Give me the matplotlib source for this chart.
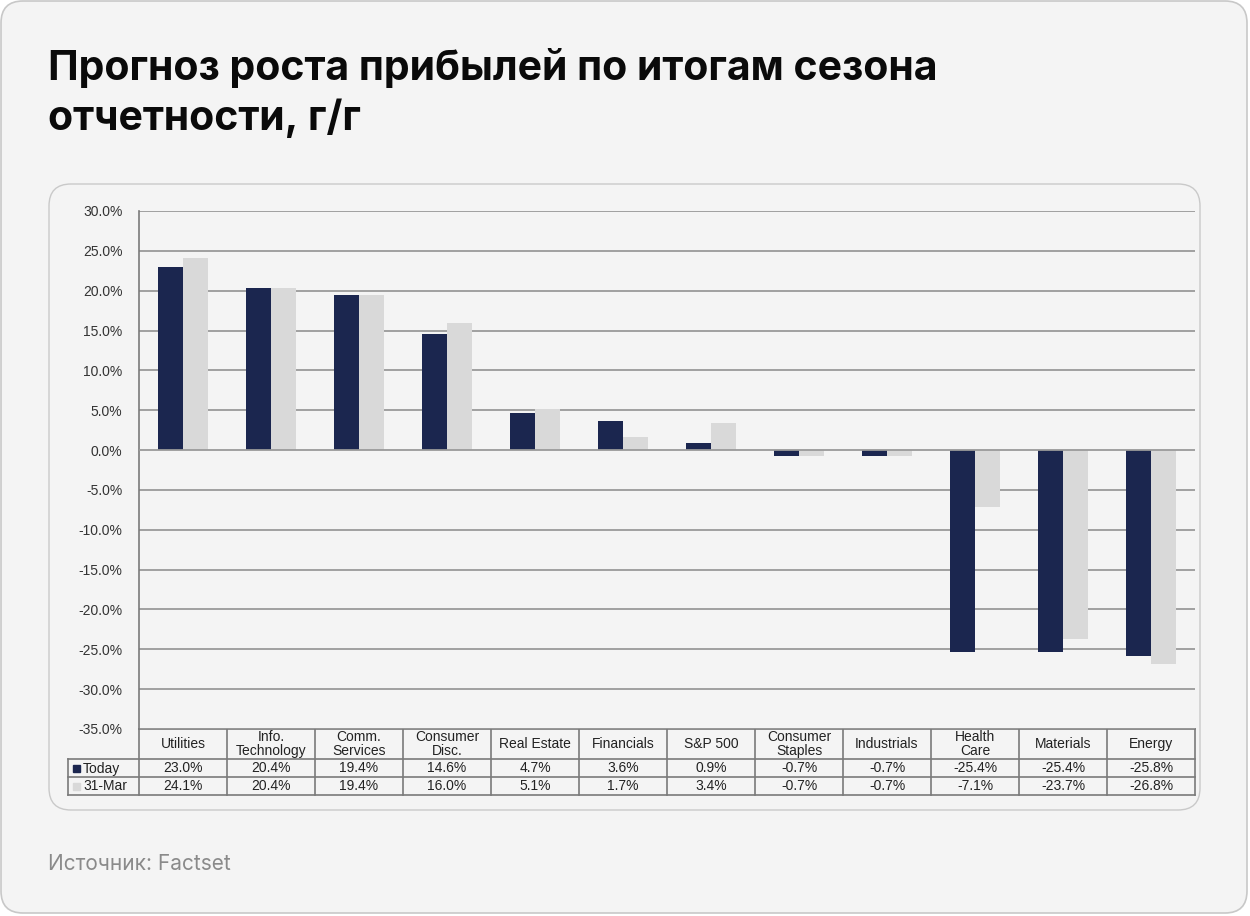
import matplotlib
matplotlib.use("Agg")
import matplotlib.pyplot as plt
from matplotlib.patches import FancyBboxPatch
import numpy as np

categories = ["Utilities", "Info.\nTechnology", "Comm.\nServices", "Consumer\nDisc.", "Real Estate",
              "Financials", "S&P 500", "Consumer\nStaples", "Industrials", "Health\nCare",
              "Materials", "Energy"]
today = [23.0, 20.4, 19.4, 14.6, 4.7, 3.6, 0.9, -0.7, -0.7, -25.4, -25.4, -25.8]
mar31 = [24.1, 20.4, 19.4, 16.0, 5.1, 1.7, 3.4, -0.7, -0.7, -7.1, -23.7, -26.8]
series_names = ["Today", "31-Mar"]
yticks = [30, 25, 20, 15, 10, 5, 0, -5, -10, -15, -20, -25, -30, -35]

title = "Прогноз роста прибылей по итогам сезона\nотчетности, г/г"
source = "Источник: Factset"

NAVY = "#1b264f"
LGRAY = "#d9d9d9"
BG = "#f4f4f4"
GRID = "#9a9a9a"
TXT = "#333333"

W, H = 1250, 916
fig = plt.figure(figsize=(W / 100, H / 100), dpi=100)
fig.patch.set_facecolor("white")

# overlay axes in pixel coordinates
ov = fig.add_axes([0, 0, 1, 1])
ov.set_xlim(0, W)
ov.set_ylim(H, 0)
ov.axis("off")
ov.set_zorder(0)

ov.add_patch(FancyBboxPatch((1, 1), W - 4, H - 4, boxstyle="round,pad=0,rounding_size=22",
                            facecolor=BG, edgecolor="#c8c8c8", linewidth=1.2))
ov.add_patch(FancyBboxPatch((49, 184), 1151, 626, boxstyle="round,pad=0,rounding_size=22",
                            facecolor=BG, edgecolor="#c9c9c9", linewidth=1.0))

ov.text(48, 68, title.split("\n")[0], fontsize=29.5, fontweight="bold",
        family=["Inter", "DejaVu Sans"], color="#0a0a0a", va="center", ha="left")
ov.text(48, 118, title.split("\n")[1], fontsize=29.5, fontweight="bold",
        family=["Inter", "DejaVu Sans"], color="#0a0a0a", va="center", ha="left")
ov.text(48, 864, source, fontsize=15, family=["Inter", "DejaVu Sans"], color="#8a8a8a",
        va="center", ha="left")

# main plot
L, R, T, B = 139, 1195, 211, 729
ax = fig.add_axes([L / W, 1 - B / H, (R - L) / W, (B - T) / H])
ax.set_zorder(1)
ax.patch.set_alpha(0)
n = len(categories)
x = np.arange(n)
bw = 0.285
ax.bar(x - bw / 2, today, width=bw, color=NAVY, zorder=3)
ax.bar(x + bw / 2, mar31, width=bw, color=LGRAY, zorder=3)
ax.set_xlim(-0.5, n - 0.5)
ax.set_ylim(-35, 30)
ax.set_yticks(yticks)
ax.set_yticklabels([f"{v:.1f}%" for v in yticks], fontsize=10, color=TXT,
                   family=["Liberation Sans", "DejaVu Sans"])
ax.tick_params(axis="y", length=0, pad=12)
ax.set_xticks([])
for v in yticks:
    ax.axhline(v, color=GRID, linewidth=1.3, zorder=2 if v != 0 else 4)
for s in ["top", "right", "bottom"]:
    ax.spines[s].set_visible(False)
ax.spines["left"].set_color("#7a7a7a")
ax.spines["left"].set_linewidth(1.2)

# data table
colw = (R - L) / n
rows_y = [729, 759, 777, 795]
tfont = ["Liberation Sans", "DejaVu Sans"]
lc = "#7a7a7a"
for yy in rows_y:
    x0 = L if yy == 729 else 68
    ov.plot([x0, R], [yy, yy], color=lc, lw=1.2, zorder=5)
for i in range(n + 1):
    xx = L + i * colw
    ov.plot([xx, xx], [729, 795], color=lc, lw=1.2, zorder=5)
ov.plot([68, 68], [759, 795], color=lc, lw=1.2, zorder=5)
for i, c in enumerate(categories):
    cx = L + (i + 0.5) * colw
    ov.text(cx, 744, c, ha="center", va="center", fontsize=10, color="#222222",
            family=tfont, linespacing=0.95)
    ov.text(cx, 768.5, f"{today[i]:.1f}%", ha="center", va="center", fontsize=10,
            color="#222222", family=tfont)
    ov.text(cx, 786.5, f"{mar31[i]:.1f}%", ha="center", va="center", fontsize=10,
            color="#222222", family=tfont)
for (yy, name, col) in [(768.5, series_names[0], NAVY), (786.5, series_names[1], LGRAY)]:
    ov.add_patch(plt.Rectangle((73, yy - 3.5), 7, 7, color=col, zorder=6))
    ov.text(83, yy, name, ha="left", va="center", fontsize=10, color="#222222", family=tfont)

fig.savefig("out.png", dpi=100, facecolor="white")
